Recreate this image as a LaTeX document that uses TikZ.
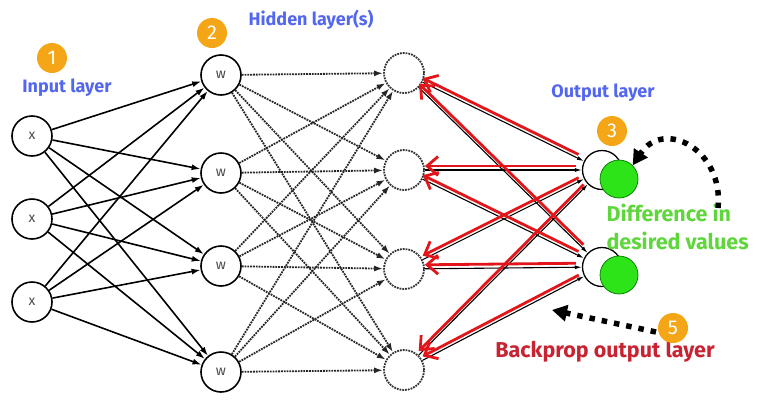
\documentclass[tikz,border=0pt]{standalone}
\usepackage{fontspec}
\setmainfont{Fira Sans}
\usetikzlibrary{arrows.meta}
\definecolor{labelblue}{RGB}{82,102,240}
\definecolor{badgeorange}{RGB}{245,166,22}
\definecolor{diffgreen}{RGB}{95,215,60}
\definecolor{fillgreen}{RGB}{45,228,25}
\definecolor{bpred}{RGB}{200,35,50}
\definecolor{arrowred}{RGB}{226,22,26}
\tikzset{
  neuron/.style={circle,draw,line width=1.6pt,minimum size=40pt,inner sep=0pt,font=\fontsize{14}{14}\selectfont,text=black!70},
  ghost/.style={circle,draw=black!80,densely dotted,line width=1.8pt,minimum size=40pt,inner sep=0pt},
  outneuron/.style={circle,draw,line width=1.3pt,minimum size=39pt,inner sep=0pt},
  target/.style={circle,draw=green!45!black,fill=fillgreen,line width=0.7pt,minimum size=38pt,inner sep=0pt},
  badge/.style={circle,fill=badgeorange,minimum size=30pt,inner sep=0pt,text=white,font=\fontsize{20}{20}\selectfont},
  layertext/.style={text=labelblue,font=\bfseries\fontsize{18}{18}\selectfont},
  forward/.style={-{Latex[length=9pt,width=6pt]},line width=1.6pt},
  dotforward/.style={-{Latex[length=9pt,width=6pt]},draw=black!85,densely dotted,line width=1.8pt},
  thinforward/.style={-{Latex[length=7pt,width=4pt]},line width=1.1pt},
  backprop/.style={-{Straight Barb[length=11pt,width=19pt]},draw=arrowred,line width=2.8pt,shorten <=6pt,transform canvas={yshift=4pt}},
  hint/.style={-{Triangle[length=15pt,width=16pt]},line width=5.5pt,dash pattern=on 5.5pt off 7pt}
}
\begin{document}
\begin{tikzpicture}[x=1pt,y=-1pt]
\useasboundingbox (0,0) rectangle (760,402);
% input layer
\node [neuron] (x1) at (32, 136) {x};
\node [neuron] (x2) at (32, 219) {x};
\node [neuron] (x3) at (32, 302) {x};
% first hidden layer
\node [neuron] (w1) at (221, 75) {w};
\node [neuron] (w2) at (221, 173) {w};
\node [neuron] (w3) at (221, 266) {w};
\node [neuron] (w4) at (221, 372) {w};
% second hidden layer
\node [ghost] (h1) at (404, 73) {};
\node [ghost] (h2) at (404, 170) {};
\node [ghost] (h3) at (404, 269) {};
\node [ghost] (h4) at (404, 370) {};
% output layer
\node [outneuron] (o1) at (602, 170) {};
\node [outneuron] (o2) at (602, 267) {};
\foreach \i in {1,2,3}
  \foreach \j in {1,2,3,4}
    \draw [forward] (x\i) -- (w\j);
\foreach \i in {1,2,3,4}
  \foreach \j in {1,2,3,4}
    \draw [dotforward] (w\i) -- (h\j);
\foreach \i in {1,2,3,4}
  \foreach \j in {1,2}
    \draw [thinforward] (h\i) -- (o\j);
\foreach \j in {1,2}
  \foreach \i in {1,2,3,4}
    \draw [backprop] (o\j) -- (h\i);
\node [target] (g1) at (619, 179) {};
\node [target] (g2) at (619, 275) {};
% labels
\node [layertext] (inlab) at (67, 88) {Input layer};
\node [layertext] (hidlab) at (311, 20) {Hidden layer(s)};
\node [layertext] (outlab) at (603, 93) {Output layer};
\node [text=diffgreen,font=\bfseries\fontsize{21.5}{28}\selectfont,align=left,anchor=west] (difflab) at (603, 227) {Difference in\\desired values};
\node [text=bpred,font=\bfseries\fontsize{21.5}{21.5}\selectfont] (bplab) at (605, 352) {Backprop output layer};
% numbered badges
\node [badge] (b1) at (52, 58) {1};
\node [badge] (b2) at (212, 33) {2};
\node [badge] (b3) at (612, 131) {3};
\node [badge] (b5) at (673, 328) {5};
% hint arrows
\coordinate (c3) at (718, 208);
\coordinate (c5) at (656, 332);
\coordinate (e5) at (552, 310);
\draw [hint] (c3) .. controls (724, 150) and (664, 118) .. (g1.north east);
\draw [hint] (c5) -- (e5);
\end{tikzpicture}
\end{document}
